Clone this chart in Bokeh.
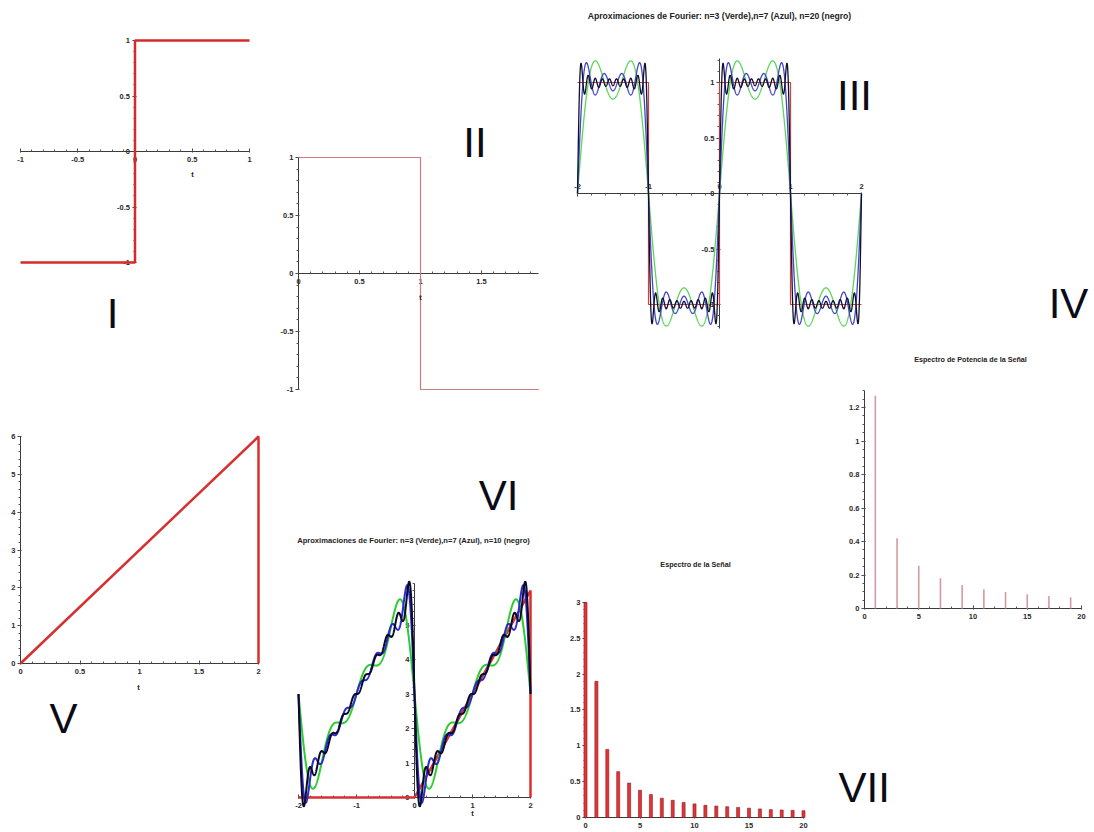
import numpy as np
from bokeh.plotting import figure
from bokeh.models import FixedTicker, Label, Range1d, CustomJSTickFormatter
from bokeh.layouts import row, column
from bokeh.embed import file_html
from bokeh.resources import INLINE

# ---------------- data ----------------
# I: sign function on [-1, 1]
sig_t = [-1.0, 0.0, 0.0, 1.0]
sig_f = [-1.0, -1.0, 1.0, 1.0]
# II: one period of the square wave on [0, 2)
cua_t = [0.0, 1.0, 1.0, 1.97]
cua_f = [1.0, 1.0, -1.0, -1.0]
# III: square wave on [-2, 2] and number of terms of the approximations
onda_t = [-2.0, -1.0, -1.0, 0.0, 0.0, 1.0, 1.0, 2.0]
onda_f = [1.0, 1.0, -1.0, -1.0, 1.0, 1.0, -1.0, -1.0]
aprox_n_III = [3, 7, 20]
# IV: power spectrum of the square wave (odd harmonics)
pot_k = [1, 3, 5, 7, 9, 11, 13, 15, 17, 19]
pot_v = [1.27, 0.42, 0.255, 0.18, 0.14, 0.115, 0.098, 0.085, 0.075, 0.067]
# V: ramp 3t on [0, 2]
saw_t = [0.0, 2.0, 2.0]
saw_f = [0.0, 6.0, 0.0]
# VI: signal and number of terms of the approximations
sawp_t = [-2.0, 0.0, 2.0, 2.0]
sawp_f = [0.0, 0.0, 6.0, 0.0]
aprox_n_VI = [3, 7, 10]
# VII: spectrum of the ramp signal
esp_k = list(range(21))
esp_v = [3.0, 1.9, 0.95, 0.64, 0.48, 0.38, 0.32, 0.27, 0.24, 0.21, 0.19,
         0.17, 0.16, 0.15, 0.14, 0.13, 0.12, 0.11, 0.105, 0.10, 0.095]

titulo_III = "Aproximaciones de Fourier: n=3 (Verde),n=7 (Azul), n=20 (negro)"
titulo_VI = "Aproximaciones de Fourier: n=3 (Verde),n=7 (Azul), n=10 (negro)"
titulo_IV = "Espectro de Potencia de la Señal"
titulo_VII = "Espectro de la Señal"

tt = np.linspace(-2.0, 2.0, 1601)


def serie_cuadrada(n):
    s = np.zeros_like(tt)
    for k, b in zip(pot_k, pot_v):
        if k <= n:
            s += b * np.sin(k * np.pi * tt)
    return s


def serie_sierra(n):
    s = np.full_like(tt, esp_v[0])
    for k in range(1, n + 1):
        s -= esp_v[k] * np.sin(k * np.pi * tt)
    return s


# ---------------- helpers ----------------
FONT = "Liberation Sans"
fmt_code = "return (Math.round(tick*1000)/1000).toString();"


class Panel:
    def __init__(self, cell, xmap, ymap, x_loc="below"):
        L, T, W, H = cell
        self.xa, self.pxa, self.sx = xmap
        self.ya, self.pya, self.sy = ymap
        xr = Range1d(self.X(L), self.X(L + W))
        yr = Range1d(self.Y(T + H), self.Y(T))
        p = figure(width=W, height=H, x_range=xr, y_range=yr,
                   x_axis_location=x_loc, output_backend="svg",
                   toolbar_location=None, min_border=0)
        p.outline_line_color = None
        p.grid.visible = False
        p.background_fill_color = "white"
        p.border_fill_color = "white"
        self.p = p

    def X(self, px):
        return self.xa + (px - self.pxa) / self.sx

    def Y(self, py):
        return self.ya + (self.pya - py) / self.sy

    def axes(self, xb, yb, xmaj, xmin, ymaj, ymin):
        p = self.p
        xa = p.xaxis[0]
        ya = p.yaxis[0]
        xa.fixed_location = 0
        ya.fixed_location = 0
        xa.bounds = xb
        ya.bounds = yb
        xa.ticker = FixedTicker(ticks=xmaj, minor_ticks=xmin)
        ya.ticker = FixedTicker(ticks=ymaj, minor_ticks=ymin)
        for ax in (xa, ya):
            ax.formatter = CustomJSTickFormatter(code=fmt_code)
            ax.level = "underlay"
            ax.axis_line_color = "#3a3a3a"
            ax.axis_line_width = 1
            ax.major_tick_line_color = "#3a3a3a"
            ax.minor_tick_line_color = "#555555"
            ax.major_label_text_font = FONT
            ax.major_label_text_font_style = "bold"
            ax.major_label_text_font_size = "7.5px"
            ax.major_label_text_color = "#2a2a2a"
        xa.major_tick_in = 3
        xa.major_tick_out = 1
        xa.minor_tick_in = 2
        xa.minor_tick_out = 0
        xa.major_label_standoff = 4
        ya.major_tick_in = 1
        ya.major_tick_out = 3
        ya.minor_tick_in = 0
        ya.minor_tick_out = 2
        ya.major_label_standoff = 2

    def text(self, px, py, txt, size="7.5px", bold=False, align="center",
             baseline="middle", color="#222222"):
        self.p.add_layout(Label(x=self.X(px), y=self.Y(py), text=txt,
                                text_font=FONT, text_font_size=size,
                                text_font_style="bold" if bold else "normal",
                                text_align=align, text_baseline=baseline,
                                text_color=color))

    def numeral(self, px, py, txt, align="center"):
        self.text(px, py, txt, size="42px", align=align, baseline="middle",
                  color="#0b0b16")


def steps(a, b, d):
    n = int(round((b - a) / d))
    return [round(a + i * d, 4) for i in range(n + 1)]


# ---------------- panel I ----------------
P1 = Panel((0, 0, 275, 390), (0, 134.5, 114.5), (0, 151, 111))
P1.axes((-1, 1), (-1, 1), [-1, -0.5, 0, 0.5, 1], steps(-1, 1, 0.1),
        [-1, -0.5, 0, 0.5, 1], steps(-1, 1, 0.1))
P1.p.line(sig_t, sig_f, line_color="#d42a2a", line_width=2.5)
P1.text(192, 174, "t", bold=True)
P1.numeral(112, 313, "I")

# ---------------- panel V ----------------
P5 = Panel((0, 390, 275, 440), (0, 20, 119), (0, 663, 37.83))
P5.axes((0, 2), (0, 6), [0, 0.5, 1, 1.5, 2], steps(0, 2, 0.1),
        [0, 1, 2, 3, 4, 5, 6], steps(0, 6, 0.2))
P5.p.line(saw_t, saw_f, line_color="#d63030", line_width=2.5)
P5.text(138, 687, "t", bold=True)
P5.numeral(63, 718, "V")

# ---------------- panel II ----------------
P2 = Panel((275, 0, 275, 460), (0, 298, 122), (0, 273, 116))
P2.axes((0, 1.97), (-1, 1), [0, 0.5, 1, 1.5], steps(0, 1.9, 0.1),
        [-1, -0.5, 0, 0.5, 1], steps(-1, 1, 0.1))
P2.p.line(cua_t, cua_f, line_color="#cc7a7a", line_width=1.2)
P2.text(420, 297, "t", bold=True)
P2.numeral(474.5, 142, "II")

# ---------------- panel VI ----------------
P6 = Panel((275, 460, 275, 370), (0, 414, 58), (0, 797, 34.5))
P6.axes((-2, 2), (0, 6.2), [-2, -1, 0, 1, 2], steps(-2, 2, 0.2),
        [0, 1, 2, 3, 4, 5], steps(0, 6.2, 0.2))
P6.p.line(sawp_t, sawp_f, line_color="#d83030", line_width=2.5)
cols6 = ["#2ecc2e", "#2a2ad0", "#0a0a28"]
for n, c in zip(aprox_n_VI, cols6):
    P6.p.line(tt, serie_sierra(n), line_color=c, line_width=2.0)
P6.text(413, 540, titulo_VI, size="7.6px", bold=True)
P6.text(472, 813, "t", bold=True)
P6.numeral(498, 495, "VI")

# ---------------- panel III (top right band, also holds label IV) -----------
P3 = Panel((550, 0, 544, 340), (0, 719, 71), (0, 193, 111), x_loc="above")
P3.axes((-2, 2), (-1.22, 1.22), [-2, -1, 0, 1, 2], steps(-2, 2, 0.2),
        [-1, -0.5, 0, 0.5, 1], steps(-1.2, 1.2, 0.1))
P3.p.line(onda_t, onda_f, line_color="#d04040", line_width=1.2)
cols3 = ["#5cd65c", "#4646c8", "#101030"]
for n, c in zip(aprox_n_III, cols3):
    P3.p.line(tt, serie_cuadrada(n), line_color=c, line_width=1.3)
P3.text(719, 15, titulo_III, size="8.6px", bold=True)
P3.numeral(854, 95, "III")
P3.numeral(1068, 303, "IV")

# ---------------- panel VII ----------------
P7 = Panel((550, 340, 286, 490), (0, 585, 10.9), (0, 817, 71.67))
P7.axes((0, 20), (0, 3), [0, 5, 10, 15, 20], steps(0, 20, 1),
        [0, 0.5, 1, 1.5, 2, 2.5, 3], steps(0, 3, 0.1))
P7.p.vbar(x=esp_k, top=esp_v, bottom=0, width=0.28, fill_color="#e23434",
          line_color="#8a1c1c", line_width=0.6)
P7.text(695, 564, titulo_VII, size="7.2px", bold=True)

# ---------------- panel IV ----------------
P4 = Panel((836, 340, 258, 490), (0, 864, 10.85), (0, 608, 167.5))
P4.axes((0, 20), (0, 1.3), [0, 5, 10, 15, 20], steps(0, 20, 1),
        [0, 0.2, 0.4, 0.6, 0.8, 1, 1.2], steps(0, 1.3, 0.05))
P4.p.segment(x0=pot_k, y0=0, x1=pot_k, y1=pot_v, line_color="#d49aa2",
             line_width=1.6)
P4.text(970, 359, titulo_IV, size="7.2px", bold=True)
P4.numeral(838, 787, "VII", align="left")

layout = row(
    column(P1.p, P5.p),
    column(P2.p, P6.p),
    column(P3.p, row(P7.p, P4.p)),
)

open("out.html", "w").write(file_html(layout, INLINE))
